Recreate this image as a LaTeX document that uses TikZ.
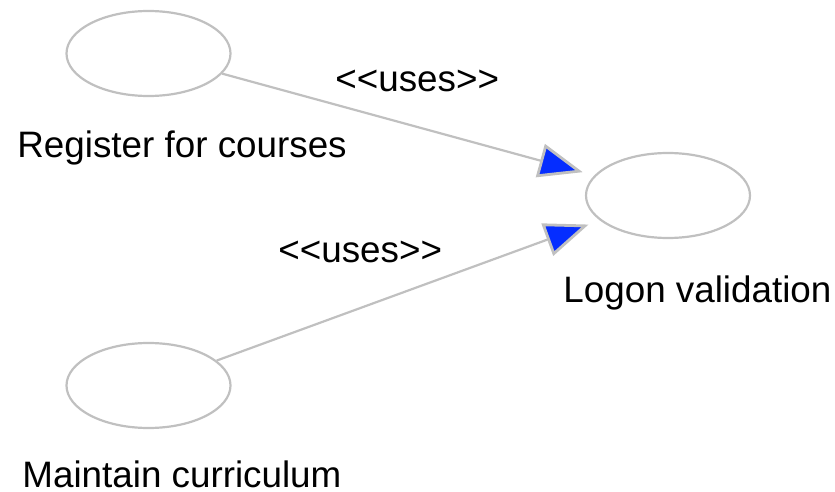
\documentclass[tikz,border=0pt]{standalone}
\usepackage{xcolor}
\usepackage{fontspec}
\setmainfont{Liberation Sans}[Ligatures=TeXOff]
\usepackage{tikz}
\usetikzlibrary{arrows.meta}
\usetikzlibrary{shapes.geometric}

\definecolor{edgegray}{RGB}{192,192,192}
\definecolor{tipblue}{RGB}{5,45,255}

\tikzset{
  usecase/.style={ellipse, draw=edgegray, line width=1.1pt, inner sep=0pt,
    minimum width=82pt, minimum height=42.5pt},
  caption/.style={anchor=base west, inner sep=0pt, font=\fontsize{18.4}{22}\selectfont},
  uses/.style={draw=edgegray, line width=1.1pt, shorten >=6pt,
    -{Triangle[length=22pt, width=17pt, line width=1.4pt, fill=tipblue]}}
}

\begin{document}
\begin{tikzpicture}[x=0.5pt, y=-0.5pt]
\useasboundingbox (0, 0) rectangle (835, 492);
\node [usecase] (register) at (148.5, 53.5) {};
\node [usecase] (maintain) at (148.5, 385.5) {};
\node [usecase] (logon) at (668, 195.5) {};
\node [caption] (registertxt) at (17, 157) {Register for courses};
\node [caption] (maintaintxt) at (22, 487) {Maintain curriculum};
\node [caption] (logontxt) at (563, 302) {Logon validation};
\node [caption] (usesA) at (335, 92) {<<uses>>};
\node [caption] (usesB) at (278, 262) {<<uses>>};
\draw [uses] (register) to (logon);
\draw [uses] (maintain) to (logon);
\end{tikzpicture}
\end{document}
